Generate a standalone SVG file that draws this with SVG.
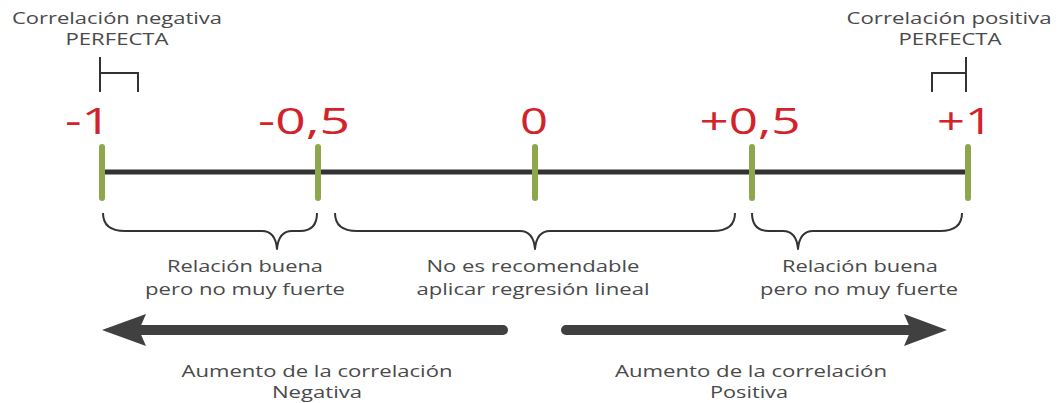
<svg xmlns="http://www.w3.org/2000/svg" width="1061" height="403" viewBox="0 0 1061 403">
<defs>
<style>
.lbl{font-family:"Open Sans","Liberation Sans",sans-serif;font-size:16px;fill:#4a4a4a;text-anchor:middle}
.num{font-family:"Open Sans","Liberation Sans",sans-serif;font-size:37px;fill:#d2232a;text-anchor:middle}
.tick{stroke:#8ea74c;stroke-width:6;stroke-linecap:round}
.brk{fill:none;stroke:#333;stroke-width:2}
.brace{fill:none;stroke:#333;stroke-width:2;stroke-linejoin:round}
.shaft{stroke:#404040;stroke-width:10;stroke-linecap:round}
.head{fill:#404040}
</style>
</defs>
<rect width="1061" height="403" fill="#fff"/>
<g id="axis">
<line x1="102" y1="172" x2="967" y2="172" stroke="#333" stroke-width="5"/>
</g>
<g id="tick-m1"><line class="tick" x1="102" y1="147" x2="102" y2="198"/><text class="num" x="88" y="134" textLength="46" lengthAdjust="spacingAndGlyphs">-1</text></g>
<g id="tick-m05"><line class="tick" x1="318" y1="147" x2="318" y2="198"/><text class="num" x="304" y="134" textLength="92" lengthAdjust="spacingAndGlyphs">-0,5</text></g>
<g id="tick-0"><line class="tick" x1="535" y1="147" x2="535" y2="198"/><text class="num" x="534" y="134" textLength="28" lengthAdjust="spacingAndGlyphs">0</text></g>
<g id="tick-p05"><line class="tick" x1="752" y1="147" x2="752" y2="198"/><text class="num" x="750" y="134" textLength="101" lengthAdjust="spacingAndGlyphs">+0,5</text></g>
<g id="tick-p1"><line class="tick" x1="968" y1="147" x2="968" y2="198"/><text class="num" x="965" y="134" textLength="56" lengthAdjust="spacingAndGlyphs">+1</text></g>
<g id="neg-perfect">
<text class="lbl" x="117" y="24" textLength="210" lengthAdjust="spacingAndGlyphs">Correlación negativa</text>
<text class="lbl" x="117" y="45" textLength="103" lengthAdjust="spacingAndGlyphs">PERFECTA</text>
<path class="brk" d="M100,57 V92 M100,73 H138 V92"/>
</g>
<g id="pos-perfect">
<text class="lbl" x="949" y="24" textLength="205" lengthAdjust="spacingAndGlyphs">Correlación positiva</text>
<text class="lbl" x="950" y="45" textLength="103" lengthAdjust="spacingAndGlyphs">PERFECTA</text>
<path class="brk" d="M966,57 V92 M966,73 H932 V92"/>
</g>
<g id="range-neg">
<path class="brace" d="M103,213 C103,225 110,231 125,231 H262 C272,231 276,238 277,249 C278,238 282,231 292,231 H300 C312,231 317,225 317,213"/>
<text class="lbl" x="245" y="272" textLength="156" lengthAdjust="spacingAndGlyphs">Relación buena</text>
<text class="lbl" x="245" y="295" textLength="200" lengthAdjust="spacingAndGlyphs">pero no muy fuerte</text>
</g>
<g id="range-mid">
<path class="brace" d="M335,213 C335,225 342,231 357,231 H520 C530,231 534,238 535,249 C536,238 540,231 550,231 H713 C728,231 735,225 735,213"/>
<text class="lbl" x="533" y="272" textLength="213" lengthAdjust="spacingAndGlyphs">No es recomendable</text>
<text class="lbl" x="533" y="295" textLength="233" lengthAdjust="spacingAndGlyphs">aplicar regresión lineal</text>
</g>
<g id="range-pos">
<path class="brace" d="M752,213 C752,225 757,231 769,231 H783 C793,231 797,238 798,249 C799,238 803,231 813,231 H940 C955,231 962,225 962,213"/>
<text class="lbl" x="860" y="272" textLength="156" lengthAdjust="spacingAndGlyphs">Relación buena</text>
<text class="lbl" x="859" y="295" textLength="198" lengthAdjust="spacingAndGlyphs">pero no muy fuerte</text>
</g>
<g id="connectors">
<line class="shaft" x1="503" y1="330" x2="130" y2="330"/>
<polygon class="head" points="102,330 146,314 139,330 146,346"/>
<line class="shaft" x1="566" y1="330" x2="915" y2="330"/>
<polygon class="head" points="947,330 904,314 911,330 904,346"/>
</g>
<g id="neg-increase">
<text class="lbl" x="317" y="377" textLength="271" lengthAdjust="spacingAndGlyphs">Aumento de la correlación</text>
<text class="lbl" x="317" y="398" textLength="90" lengthAdjust="spacingAndGlyphs">Negativa</text>
</g>
<g id="pos-increase">
<text class="lbl" x="751" y="377" textLength="272" lengthAdjust="spacingAndGlyphs">Aumento de la correlación</text>
<text class="lbl" x="749" y="398" textLength="78" lengthAdjust="spacingAndGlyphs">Positiva</text>
</g>
</svg>
